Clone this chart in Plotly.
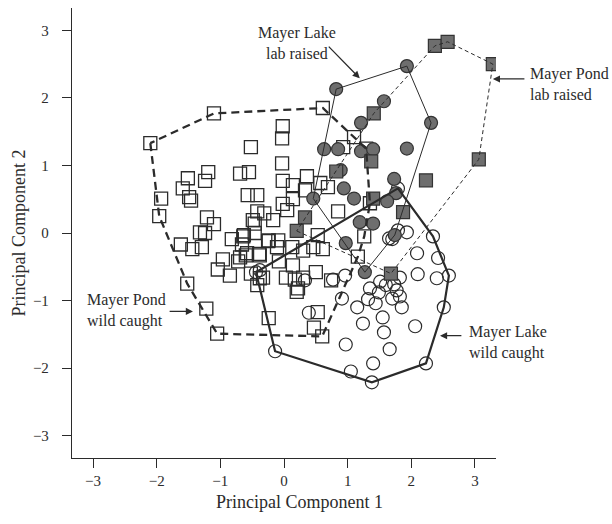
import plotly.graph_objects as go

# ---- principal component scores per group ----
pond_wild_x = [-2.10, -1.10, 0.61, 1.10, -0.02, -0.03, -0.52, -0.03, -1.19, -1.51,
               -1.24, -1.59, -1.49, -1.93, -0.69, -0.55, -0.02, 0.36, 0.14, 0.57,
               0.69, -0.57, -0.42, -0.02, 0.14, -1.96, -1.21, -1.10, -1.32, -1.24,
               -0.82, -0.64, -0.49, -0.42, -0.31, -0.17, -0.24, -0.09, -0.46, 0.85,
               0.53, -1.62, -1.44, -1.29, -1.52, -1.22, -1.05, -0.96, -1.04, -0.85,
               -0.72, -0.66, -0.58, -0.39, -0.46, 0.05, -0.11, 0.13, -0.08, 0.14,
               0.30, 0.46, 0.61, 0.03, 0.22, 0.30, 0.50, 0.74, -0.52, -0.42,
               -0.38, -0.24, 0.53, 0.47, 0.60, -0.33, 0.17, 1.29, 1.35, 1.26,
               0.33, 0.93, -0.25, -0.63, -1.46, -0.60, -0.38, 1.16, -0.69, 0.20]
pond_wild_y = [1.33, 1.77, 1.85, 1.42, 1.58, 1.40, 1.27, 1.03, 0.90, 0.81,
               0.77, 0.66, 0.53, 0.51, 0.88, 0.90, 0.77, 0.84, 0.71, 0.74,
               0.68, 0.56, 0.56, 0.43, 0.50, 0.25, 0.23, 0.13, 0.01, 0.00,
               -0.09, -0.05, 0.19, 0.32, 0.29, 0.19, -0.11, -0.11, 0.00, 0.32,
               -0.03, -0.17, -0.24, -0.21, -0.75, -1.12, -1.49, -0.39, -0.54, -0.63,
               -0.42, -0.17, -0.30, -0.31, 0.14, 0.34, -0.21, -0.21, -0.42, -0.48,
               -0.26, -0.21, -0.24, -0.66, -0.82, -0.66, -0.58, -0.70, -0.60, -0.77,
               -0.67, -1.26, -1.17, -1.40, -1.53, -0.66, -0.69, 1.25, 0.44, -0.05,
               0.63, 1.27, -0.12, -0.03, 0.48, -0.33, -0.33, -0.35, -0.36, -0.87]

lake_wild_x = [2.34, 1.93, 1.79, 1.70, 2.09, 2.42, 2.59, 2.40, 2.10, 1.82,
               1.51, 1.35, 1.49, 1.77, 1.82, 1.70, 1.32, 1.44, 1.15, 1.85,
               2.51, 0.91, 0.96, 0.77, 1.55, 1.24, 1.57, 2.06, 0.97, 1.66,
               1.40, 2.23, 1.05, 1.38, 0.39, 0.33, -0.44, -0.14, 1.79, 1.65,
               1.73, 1.60, -0.38]
lake_wild_y = [-0.05, 0.01, 0.04, -0.09, -0.30, -0.37, -0.63, -0.67, -0.61, -0.66,
               -0.72, -0.82, -0.88, -0.85, -0.94, -0.97, -0.98, -1.04, -1.10, -1.10,
               -1.10, -0.97, -0.63, -0.69, -1.25, -1.34, -1.47, -1.38, -1.65, -1.72,
               -1.93, -1.93, -2.05, -2.21, -1.18, -0.70, -0.58, -1.75, 0.66, -0.08,
               -0.76, -0.77, -0.55]

lake_lab_x = [0.82, 1.93, 1.57, 2.31, 1.21, 0.63, 0.85, 1.21, 1.40, 1.93,
              1.73, 1.76, 0.94, 1.10, 1.62, 0.46, 1.19, 1.40, 0.97, 1.74,
              1.27, 0.89]
lake_lab_y = [2.13, 2.47, 1.95, 1.63, 1.63, 1.24, 1.24, 1.21, 1.24, 1.25,
              0.80, 0.59, 0.66, 0.51, 0.47, 0.51, 0.16, 0.14, -0.15, -0.03,
              -0.58, 0.93]

pond_lab_x = [2.37, 2.57, 3.28, 3.06, 2.23, 1.41, 1.37, 0.82, 1.40, 1.87,
              0.33, 0.20, 1.68]
pond_lab_y = [2.77, 2.83, 2.50, 1.09, 0.78, 1.77, 1.06, 0.91, 0.51, 0.31,
              0.23, 0.03, -0.60]

tick_vals = [-3, -2, -1, 0, 1, 2, 3]
X_RANGE = [-3.33, 3.33]
Y_RANGE = [-3.33, 3.33]

FONT = "Liberation Serif, Times New Roman, serif"
INK = "#2b2b2b"


def convex_hull(xs, ys):
    """Monotone-chain hull, returned closed for drawing."""
    pts = sorted(set(zip(xs, ys)))

    def cross(o, a, b):
        return (a[0] - o[0]) * (b[1] - o[1]) - (a[1] - o[1]) * (b[0] - o[0])

    lower, upper = [], []
    for p in pts:
        while len(lower) >= 2 and cross(lower[-2], lower[-1], p) <= 0:
            lower.pop()
        lower.append(p)
    for p in reversed(pts):
        while len(upper) >= 2 and cross(upper[-2], upper[-1], p) <= 0:
            upper.pop()
        upper.append(p)
    hull = lower[:-1] + upper[:-1]
    hull.append(hull[0])
    return [p[0] for p in hull], [p[1] for p in hull]


def paper_x(x):
    return (x - X_RANGE[0]) / (X_RANGE[1] - X_RANGE[0])


def paper_y(y):
    return (y - Y_RANGE[0]) / (Y_RANGE[1] - Y_RANGE[0])


fig = go.Figure()

# markers
fig.add_trace(go.Scatter(
    x=pond_wild_x, y=pond_wild_y, mode="markers", name="Mayer Pond wild caught",
    marker=dict(symbol="square-open", size=13, color=INK, line=dict(width=1.3, color=INK))))
fig.add_trace(go.Scatter(
    x=lake_wild_x, y=lake_wild_y, mode="markers", name="Mayer Lake wild caught",
    marker=dict(symbol="circle-open", size=13, color=INK, line=dict(width=1.2, color=INK))))
fig.add_trace(go.Scatter(
    x=lake_lab_x, y=lake_lab_y, mode="markers", name="Mayer Lake lab raised",
    marker=dict(symbol="circle", size=13, color="#6e6e6e", line=dict(width=1.2, color="#333333"))))
fig.add_trace(go.Scatter(
    x=pond_lab_x, y=pond_lab_y, mode="markers", name="Mayer Pond lab raised",
    marker=dict(symbol="square", size=13, color="#6e6e6e", line=dict(width=1.2, color="#333333"))))

# convex hulls around each group
hull_styles = [
    (pond_wild_x, pond_wild_y, dict(color=INK, width=2.3, dash="8px,5px")),
    (lake_wild_x, lake_wild_y, dict(color=INK, width=2.2)),
    (lake_lab_x, lake_lab_y, dict(color=INK, width=1.0)),
    (pond_lab_x, pond_lab_y, dict(color=INK, width=1.0, dash="4px,3px")),
]
for xs, ys, line in hull_styles:
    hx, hy = convex_hull(xs, ys)
    fig.add_trace(go.Scatter(x=hx, y=hy, mode="lines", line=line, cliponaxis=False,
                             hoverinfo="skip", showlegend=False))

# group labels (text position, alignment) and their arrows (head, tail)
labels = [
    ("Mayer Lake<br>lab raised", 0.20, 2.81, "center", 1.19, 2.29, 0.68, 2.78),
    ("Mayer Pond<br>lab raised", 3.83, 2.20, "left", 3.28, 2.28, 3.80, 2.28),
    ("Mayer Pond<br>wild caught", -3.12, -1.15, "left", -1.43, -1.16, -1.82, -1.16),
    ("Mayer Lake<br>wild caught", 2.87, -1.62, "left", 2.45, -1.52, 2.81, -1.52),
]
for text, tx, ty, anchor, hx, hy, tlx, tly in labels:
    fig.add_annotation(x=paper_x(tx), y=paper_y(ty), xref="paper", yref="paper",
                       text=text, showarrow=False, xanchor=anchor,
                       yanchor="middle", align=anchor,
                       font=dict(family=FONT, size=16, color=INK))
    fig.add_annotation(x=hx, y=hy, ax=tlx, ay=tly, axref="x", ayref="y", text="",
                       showarrow=True, arrowhead=2, arrowsize=1.1, arrowwidth=1.3,
                       arrowcolor=INK)

axis_common = dict(
    showgrid=False, zeroline=False, showline=True, linecolor=INK, linewidth=1.3,
    ticks="outside", ticklen=9, tickwidth=1.3, tickcolor=INK, mirror=False,
    tickvals=tick_vals, tickfont=dict(family=FONT, size=15, color=INK),
)
fig.update_xaxes(range=X_RANGE, title=None, **axis_common)
fig.update_yaxes(range=Y_RANGE, ticklabelstandoff=10,
                 title=dict(text="Principal Component 2",
                            font=dict(family=FONT, size=18, color=INK), standoff=2),
                 **axis_common)

# x-axis title
fig.add_annotation(x=paper_x(0.25), y=-0.098, xref="paper", yref="paper",
                   text="Principal Component 1", showarrow=False,
                   xanchor="center", yanchor="middle",
                   font=dict(family=FONT, size=18, color=INK))

fig.update_layout(
    width=612, height=524, showlegend=False,
    margin=dict(l=72, r=116, t=8, b=66),
    paper_bgcolor="white", plot_bgcolor="white",
)

fig.write_html("out.html")
